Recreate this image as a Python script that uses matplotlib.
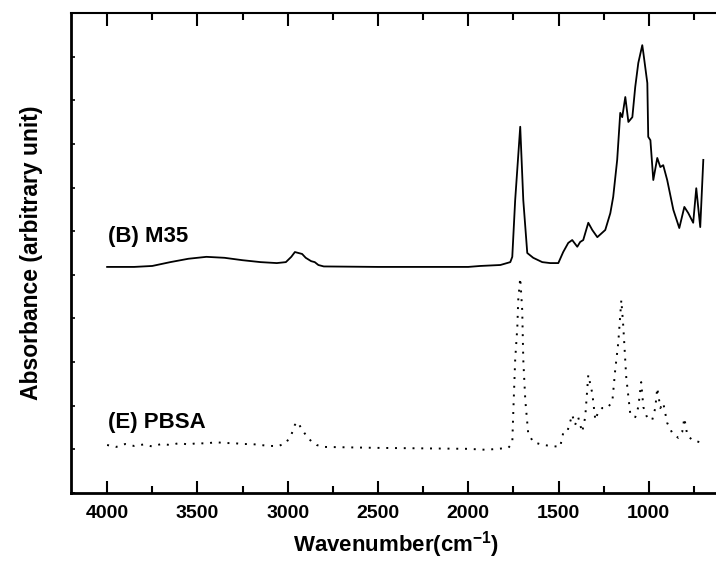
import numpy as np
import matplotlib
matplotlib.use("Agg")
import matplotlib.pyplot as plt
from matplotlib.ticker import MultipleLocator

plt.rcParams['font.family'] = ['Liberation Sans', 'DejaVu Sans']
plt.rcParams['mathtext.default'] = 'regular'

# (B) M35 spectrum, wavenumber (cm-1) vs absorbance (arbitrary unit)
m35_wn = [4000, 3850, 3750, 3650, 3550, 3450, 3350, 3250, 3150, 3060, 3010,
          2980, 2960, 2940, 2920, 2900, 2870, 2850, 2830, 2800, 2500, 2000,
          1933, 1822, 1767, 1756, 1740, 1712, 1695, 1673, 1640, 1590, 1546,
          1501, 1474, 1446, 1424, 1396, 1380, 1363, 1335, 1313, 1285, 1241,
          1213, 1197, 1175, 1158, 1147, 1130, 1113, 1091, 1075, 1058, 1036,
          1030, 1008, 1003, 991, 975, 953, 936, 920, 898, 864, 831, 803,
          781, 754, 737, 715, 698]
m35_abs = [47.1, 47.1, 47.3, 48.1, 48.8, 49.2, 49.0, 48.5, 48.1, 47.9, 48.1,
           49.2, 50.2, 50.0, 49.8, 49.0, 48.3, 48.1, 47.5, 47.2, 47.1, 47.1,
           47.3, 47.5, 48.1, 49.2, 61.0, 76.3, 61.0, 50.0, 49.0, 48.1, 47.9,
           47.9, 50.2, 52.1, 52.7, 51.3, 52.3, 52.7, 56.3, 54.8, 53.3, 54.8,
           58.3, 61.7, 69.4, 79.2, 78.3, 82.5, 77.3, 78.3, 84.6, 89.6, 93.3,
           91.7, 85.4, 74.2, 73.5, 65.2, 69.8, 67.9, 68.3, 65.2, 59.0, 55.2,
           59.6, 58.3, 56.3, 63.5, 55.4, 69.4]

# (E) PBSA spectrum
pbsa_wn = [4000, 3950, 3900, 3850, 3800, 3750, 3700, 3650, 3600, 3550, 3500,
           3450, 3400, 3350, 3300, 3250, 3200, 3150, 3100, 3050, 3010, 2980,
           2960, 2945, 2925, 2900, 2870, 2840, 2800, 2500, 2000, 1900, 1778,
           1756, 1750, 1740, 1728, 1723, 1712, 1701, 1695, 1684, 1668, 1640,
           1585, 1491, 1474, 1452, 1424, 1408, 1391, 1369, 1352, 1335, 1313,
           1296, 1280, 1258, 1230, 1202, 1186, 1169, 1152, 1141, 1125, 1102,
           1075, 1058, 1042, 1030, 1008, 981, 964, 953, 936, 920, 898, 870,
           837, 815, 803, 787, 759, 698]
pbsa_abs = [10.0, 9.6, 10.2, 9.8, 10.1, 9.7, 10.2, 10.0, 10.4, 10.1, 10.4,
            10.3, 10.6, 10.4, 10.4, 10.2, 10.2, 10.0, 9.8, 9.8, 10.4, 12.1,
            14.2, 14.8, 13.5, 12.1, 10.8, 10.0, 9.6, 9.4, 9.2, 9.0, 9.4,
            10.4, 17.3, 27.7, 34.6, 40.2, 44.8, 38.1, 27.7, 19.4, 12.5, 10.6,
            10.0, 9.6, 12.5, 12.7, 16.3, 14.2, 15.8, 12.7, 15.8, 24.6, 20.8,
            15.2, 16.9, 17.7, 17.7, 19.0, 25.6, 31.3, 40.2, 34.6, 24.2, 16.3,
            15.8, 17.9, 23.1, 17.9, 15.6, 15.2, 17.7, 21.9, 17.7, 18.8, 14.6,
            12.5, 11.5, 12.7, 15.6, 12.1, 11.0, 10.4]

labels = ['(B) M35', '(E) PBSA']
label_pos = [(3995, 52.3), (3995, 13.5)]

fig = plt.figure(figsize=(7.16, 5.62), dpi=100)
ax = fig.add_axes([71 / 716, 69 / 562, 650 / 716, 480 / 562])

ax.plot(m35_wn, m35_abs, color='black', lw=1.3, solid_joinstyle='round')
ax.plot(pbsa_wn, pbsa_abs, color='black', lw=1.4, linestyle=(0, (1, 3.5)))

for lab, (xx, yy) in zip(labels, label_pos):
    ax.text(xx, yy, lab, fontsize=16, fontweight='bold', ha='left', va='baseline')

ax.set_xlim(4200, 600)
ax.set_ylim(0, 100)
ax.xaxis.set_major_locator(MultipleLocator(500))
ax.xaxis.set_minor_locator(MultipleLocator(250))
ax.set_yticks(np.linspace(0, 100, 12))
ax.set_yticklabels([])

ax.tick_params(axis='x', which='major', direction='in', length=9, width=1.5,
               labelsize=14, pad=9, top=True)
ax.tick_params(axis='x', which='minor', direction='in', length=5, width=1.5, top=True)
ax.tick_params(axis='y', direction='in', length=3, width=1.2)
for t in ax.get_xticklabels():
    t.set_fontweight('bold')

for s in ['left', 'bottom']:
    ax.spines[s].set_linewidth(2)
ax.spines['top'].set_linewidth(1.5)
ax.spines['right'].set_visible(False)

ax.set_xlabel('Wavenumber(cm$^{-1}$)', fontsize=16, fontweight='bold', labelpad=5)
ax.set_ylabel('Absorbance (arbitrary unit)', fontsize=16.5, fontweight='bold', labelpad=17)

fig.savefig('out.png', dpi=100)
